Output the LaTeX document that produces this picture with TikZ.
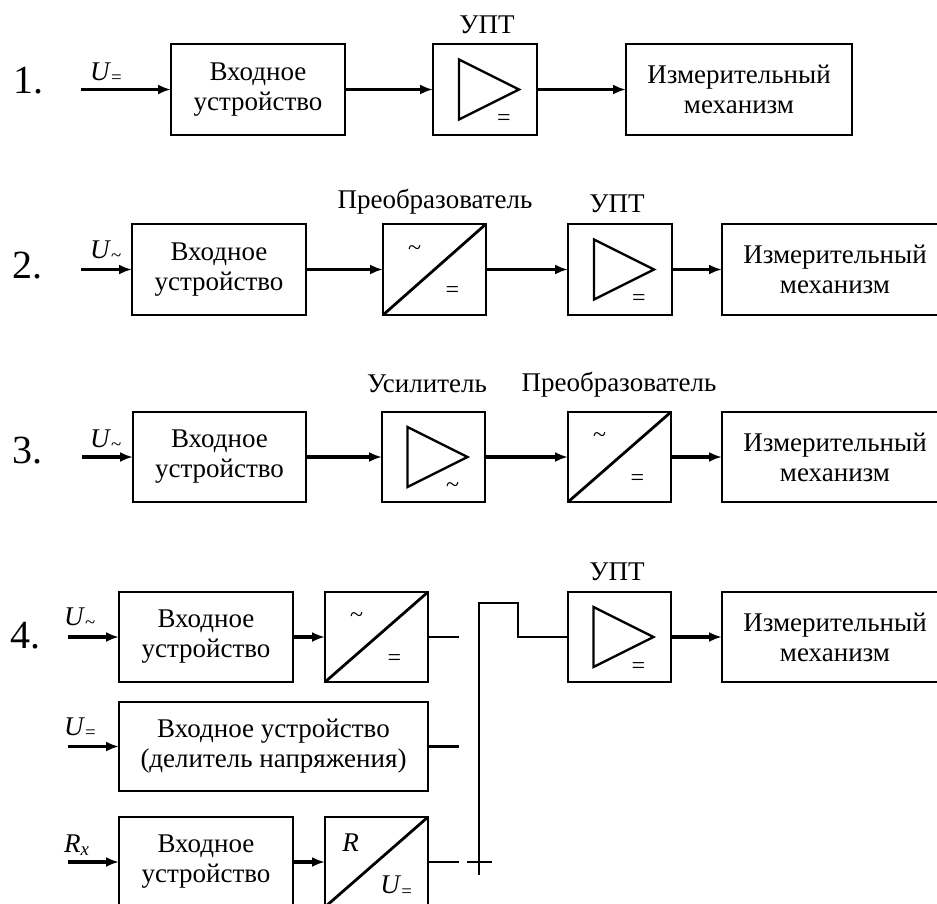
\documentclass[tikz,border=0pt]{standalone}
\usepackage{fontspec}
\setmainfont{Liberation Serif}
\usetikzlibrary{arrows.meta}
\tikzset{
  box/.style={draw, line width=2.8pt, rectangle, inner sep=0pt, outer sep=0pt, align=center, minimum height=91pt, font=\fontsize{27}{30}\selectfont},
  conn/.style={line width=3.4pt, -{Latex[length=13pt,width=10pt]}},
  wire/.style={line width=2.2pt},
  tri/.style={line width=2.4pt, line join=miter},
  diag/.style={line width=2.8pt},
  lbl/.style={font=\fontsize{27}{30}\selectfont, inner sep=0pt, anchor=base},
  sig/.style={font=\fontsize{27}{30}\selectfont, inner sep=0pt, anchor=base west},
  num/.style={font=\fontsize{40}{40}\selectfont, inner sep=0pt, anchor=base west},
  sym/.style={font=\fontsize{24}{24}\selectfont, inner sep=0pt},
}
\newcommand{\ampbox}[1]{%
  \draw[tri] ([shift={(-26,-30)}]#1.center) -- ([shift={(34,0)}]#1.center) -- ([shift={(-26,30)}]#1.center) -- cycle;}
\newcommand{\convbox}[1]{%
  \draw[diag] (#1.south west) -- (#1.north east);}
\begin{document}
\begin{tikzpicture}[x=1pt,y=-1pt]
\clip (0,0) rectangle (937,903);
\fill[white] (0,0) rectangle (937,903);

% ---------- Row 1 ----------
\node[num] (n1) at (13,93) {1.};
\coordinate (i1) at (81,89.5);
\node[sig] (u1) at (90,80) {\textit{U}\textsubscript{=}};
\node[box, minimum width=174pt] (b1) at (258,89.5) {Входное\\устройство};
\node[box, minimum width=104pt] (a1) at (485,89.5) {};
\node[box, minimum width=226pt] (m1) at (739,89.5) {Измерительный\\механизм};
\node[lbl] (l1) at (487,33) {УПТ};
\ampbox{a1}
\node[sym] (e1) at ([shift={(19,31)}]a1.center) {=};
\draw[conn] (i1) -- (b1);
\draw[conn] (b1) -- (a1);
\draw[conn] (a1) -- (m1);

% ---------- Row 2 ----------
\node[num] (n2) at (12,278) {2.};
\coordinate (i2) at (81,269.5);
\node[sig] (u2) at (90,258) {\textit{U}\textsubscript{\textasciitilde}};
\node[box, minimum width=174pt] (b2) at (219,269.5) {Входное\\устройство};
\node[box, minimum width=103pt] (c2) at (434.5,269.5) {};
\node[box, minimum width=104pt] (a2) at (620,269.5) {};
\node[box, minimum width=226pt] (m2) at (835,269.5) {Измерительный\\механизм};
\node[lbl] (l2a) at (435,208) {Преобразователь};
\node[lbl] (l2b) at (617,212) {УПТ};
\convbox{c2}
\node[sym] (t2) at ([shift={(-20,-19)}]c2.center) {\textasciitilde};
\node[sym] (e2) at ([shift={(18,23)}]c2.center) {=};
\ampbox{a2}
\node[sym] (e2b) at ([shift={(19,31)}]a2.center) {=};
\draw[conn] (i2) -- (b2);
\draw[conn] (b2) -- (c2);
\draw[conn] (c2) -- (a2);
\draw[conn] (a2) -- (m2);

% ---------- Row 3 ----------
\node[num] (n3) at (12,463) {3.};
\coordinate (i3) at (82,457);
\node[sig] (u3) at (90,447) {\textit{U}\textsubscript{\textasciitilde}};
\node[box, minimum width=173pt, minimum height=90pt] (b3) at (219.5,457) {Входное\\устройство};
\node[box, minimum width=103pt, minimum height=90pt] (s3) at (433.5,457) {};
\node[box, minimum width=103pt, minimum height=90pt] (c3) at (619.5,457) {};
\node[box, minimum width=226pt, minimum height=90pt] (m3) at (835,457) {Измерительный\\механизм};
\node[lbl] (l3a) at (427,392) {Усилитель};
\node[lbl] (l3b) at (619,391) {Преобразователь};
\ampbox{s3}
\node[sym] (t3a) at ([shift={(19,31)}]s3.center) {\textasciitilde};
\convbox{c3}
\node[sym] (t3) at ([shift={(-20,-19)}]c3.center) {\textasciitilde};
\node[sym] (e3) at ([shift={(18,23)}]c3.center) {=};
\draw[conn] (i3) -- (b3);
\draw[conn] (b3) -- (s3);
\draw[conn] (s3) -- (c3);
\draw[conn] (c3) -- (m3);

% ---------- Row 4 ----------
\node[num] (n4) at (10,648) {4.};
\coordinate (i4a) at (68,637);
\coordinate (i4b) at (68,746.5);
\coordinate (i4c) at (68,862);
\node[sig] (u4a) at (64,625) {\textit{U}\textsubscript{\textasciitilde}};
\node[sig] (u4b) at (64,735) {\textit{U}\textsubscript{=}};
\node[sig] (r4c) at (64,852) {\textit{R}\textsubscript{\textit{x}}};
\node[box, minimum width=174pt, minimum height=90pt] (b4a) at (206,637) {Входное\\устройство};
\node[box, minimum width=103pt, minimum height=90pt] (c4a) at (376.5,637) {};
\node[box, minimum width=309pt, minimum height=89pt] (b4b) at (273.5,746.5) {Входное устройство\\(делитель напряжения)};
\node[box, minimum width=174pt, minimum height=90pt] (b4c) at (206,862) {Входное\\устройство};
\node[box, minimum width=103pt, minimum height=90pt] (c4c) at (376.5,862) {};
\node[box, minimum width=103pt, minimum height=90pt] (a4) at (619.5,637) {};
\node[box, minimum width=226pt, minimum height=90pt] (m4) at (835,637) {Измерительный\\механизм};
\node[lbl] (l4) at (617,580) {УПТ};
\convbox{c4a}
\node[sym] (t4a) at ([shift={(-20,-19)}]c4a.center) {\textasciitilde};
\node[sym] (e4a) at ([shift={(18,23)}]c4a.center) {=};
\convbox{c4c}
\node[sym, font=\fontsize{27}{27}\selectfont] (r4) at ([shift={(-26,-19)}]c4c.center) {\textit{R}};
\node[sym, font=\fontsize{27}{27}\selectfont] (u4c) at ([shift={(20,25)}]c4c.center) {\textit{U}\textsubscript{=}};
\ampbox{a4}
\node[sym] (e4) at ([shift={(19,31)}]a4.center) {=};
\draw[conn] (i4a) -- (b4a);
\draw[conn] (i4b) -- (b4b);
\draw[conn] (i4c) -- (b4c);
\draw[conn] (b4a) -- (c4a);
\draw[conn] (b4c) -- (c4c);
\draw[conn] (a4) -- (m4);

% switch
\coordinate (s1) at (459,637);
\coordinate (s2) at (459,746.5);
\coordinate (s3e) at (459,862);
\coordinate (vb) at (479,875);
\coordinate (vt) at (479,603);
\coordinate (jt) at (518,603);
\coordinate (jb) at (518,637);
\coordinate (xl) at (467,862);
\coordinate (xr) at (492,862);
\draw[wire] (c4a.east) -- (s1);
\draw[wire] (b4b.east) -- (s2);
\draw[wire] (c4c.east) -- (s3e);
\draw[wire] (vb) -- (vt) -- (jt) -- (jb) -- (a4.west);
\draw[wire] (xl) -- (xr);
\end{tikzpicture}
\end{document}
